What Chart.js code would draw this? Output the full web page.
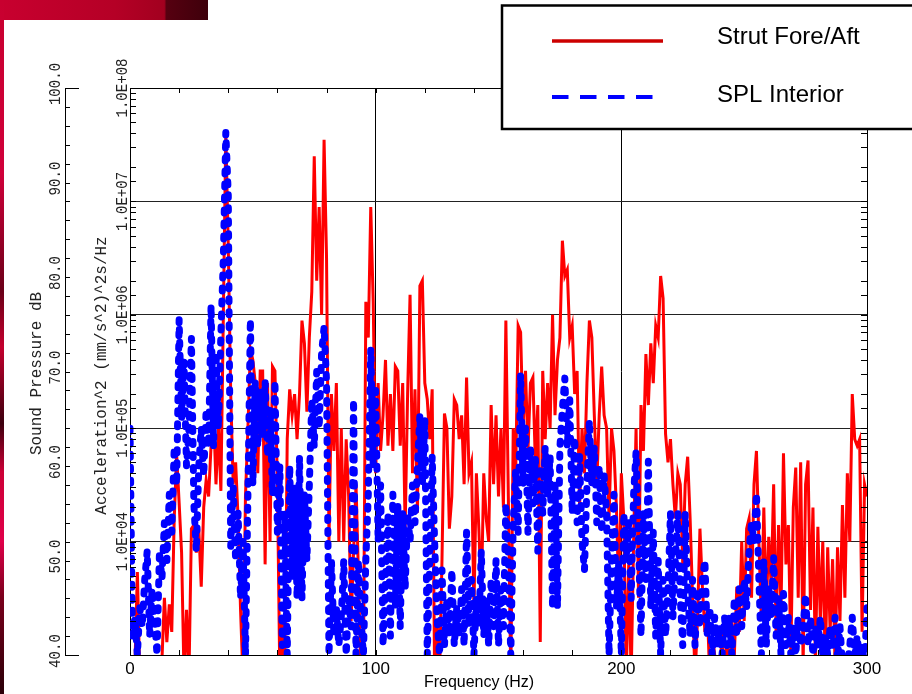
<!DOCTYPE html>
<html>
<head>
<meta charset="utf-8">
<title>Strut Fore/Aft vs SPL Interior</title>
<script src="https://cdn.jsdelivr.net/npm/chart.js@4.4.1/dist/chart.umd.min.js"></script>
<style>
  html, body { margin: 0; padding: 0; background: #fff; }
  body { width: 912px; height: 694px; position: relative; overflow: hidden; }
  #band { position: absolute; left: 0; top: 0; width: 208px; height: 20px;
    background: linear-gradient(90deg, #c8002f 0%, #b50026 55%, #a2001f 79%, #560010 80%, #3e000b 100%); }
  #strip { position: absolute; left: 0; top: 0; width: 4px; height: 694px;
    background: linear-gradient(180deg, #c8002f 0%, #d0003a 25%, #6a0018 42%, #c4002e 50%, #3c000e 61%, #cc0036 68%, #e0004a 78%, #7a001c 86%, #2a0008 100%); }
  #chart { position: absolute; left: 0; top: 0; }
</style>
</head>
<body>
<div id="band"></div>
<div id="strip"></div>
<canvas id="chart" width="912" height="694"></canvas>
<script>
// frequency grid (Hz)
const freqHz = [
  0, 1, 2, 3, 4, 5, 6, 7, 8, 9, 10, 11, 12, 13, 14, 15, 16, 17, 18, 19,
  20, 21, 22, 23, 24, 25, 26, 27, 28, 29, 30, 31, 32, 33, 34, 35, 36, 37, 38, 39,
  40, 41, 42, 43, 44, 45, 46, 47, 48, 49, 50, 51, 52, 53, 54, 55, 56, 57, 58, 59,
  60, 61, 62, 63, 64, 65, 66, 67, 68, 69, 70, 71, 72, 73, 74, 75, 76, 77, 78, 79,
  80, 81, 82, 83, 84, 85, 86, 87, 88, 89, 90, 91, 92, 93, 94, 95, 96, 97, 98, 99,
  100, 101, 102, 103, 104, 105, 106, 107, 108, 109, 110, 111, 112, 113, 114, 115, 116, 117, 118, 119,
  120, 121, 122, 123, 124, 125, 126, 127, 128, 129, 130, 131, 132, 133, 134, 135, 136, 137, 138, 139,
  140, 141, 142, 143, 144, 145, 146, 147, 148, 149, 150, 151, 152, 153, 154, 155, 156, 157, 158, 159,
  160, 161, 162, 163, 164, 165, 166, 167, 168, 169, 170, 171, 172, 173, 174, 175, 176, 177, 178, 179,
  180, 181, 182, 183, 184, 185, 186, 187, 188, 189, 190, 191, 192, 193, 194, 195, 196, 197, 198, 199,
  200, 201, 202, 203, 204, 205, 206, 207, 208, 209, 210, 211, 212, 213, 214, 215, 216, 217, 218, 219,
  220, 221, 222, 223, 224, 225, 226, 227, 228, 229, 230, 231, 232, 233, 234, 235, 236, 237, 238, 239,
  240, 241, 242, 243, 244, 245, 246, 247, 248, 249, 250, 251, 252, 253, 254, 255, 256, 257, 258, 259,
  260, 261, 262, 263, 264, 265, 266, 267, 268, 269, 270, 271, 272, 273, 274, 275, 276, 277, 278, 279,
  280, 281, 282, 283, 284, 285, 286, 287, 288, 289, 290, 291, 292, 293, 294, 295, 296, 297, 298, 299,
  300
]

// Strut Fore/Aft acceleration PSD, (mm/s^2)^2 s/Hz
const strutAccel = [
  5e2, 6.3e2, 8e2, 5.4e3, 6.3e2, 5e2, 4e2, 5e2, 4e2, 5e2,
  4e2, 5e2, 6.3e2, 9e2, 3.2e3, 1.3e3, 2.8e3, 1.6e3, 1.6e4, 5.8e4,
  2.2e4, 8e3, 6.3e2, 2.5e3, 6.3e2, 1.3e4, 1.4e4, 8e3, 1.3e4, 4e3,
  2e4, 3.5e4, 2.5e4, 7e4, 1.4e5, 3.2e4, 1e5, 2.8e4, 1e6, 4e7,
  4e6, 2e5, 3.2e4, 5e4, 1.6e4, 2.5e3, 6.3e2, 2.5e4, 1e5, 5e5,
  4e5, 2.5e5, 4e4, 3.2e5, 3.2e5, 6.3e3, 2.5e5, 1e4, 3.5e5, 3.2e5,
  3.2e4, 6.3e2, 2e3, 6.3e2, 8e4, 2.2e5, 1.3e5, 2e5, 8e4, 2e5,
  8.9e5, 5.6e5, 1.4e5, 6.3e5, 1.6e6, 2.5e7, 2e6, 8.9e6, 1e6, 3.5e7,
  3.2e6, 1e4, 2e5, 6.3e4, 2.5e5, 1e4, 1e5, 1e4, 8e4, 2.5e4,
  2e3, 8e3, 3.2e4, 5e3, 6.3e2, 6.3e2, 1.3e6, 6.3e5, 8.9e6, 1.3e6,
  4e4, 2.5e5, 6.3e4, 1.3e5, 4e5, 7e4, 2e5, 6.3e4, 3.5e5, 3.2e5,
  7e4, 2.5e5, 1.3e4, 2e5, 1.5e6, 4e4, 2.2e5, 1.8e4, 1.8e6, 2e6,
  2.5e5, 1.8e5, 8e4, 2.2e5, 6.3e2, 2e3, 6.3e2, 7e3, 1.35e5, 1e5,
  1.3e4, 2.5e4, 1.8e5, 1.6e5, 8e4, 1.3e5, 3.2e4, 2.8e5, 4e4, 5e4,
  2.5e3, 4e4, 1.3e4, 3.2e3, 4e4, 1.6e4, 1e4, 1.6e5, 3.2e4, 1.3e5,
  2.5e4, 1e5, 2e4, 8.9e5, 2.5e4, 6.3e2, 1e5, 4e4, 8e5, 7e5,
  1e5, 3.2e5, 6.3e4, 2.5e5, 2.8e5, 5e4, 1.6e5, 1.3e3, 3.2e5, 8e4,
  2.5e5, 1e5, 1e6, 1.3e5, 4e5, 6.3e5, 4.5e6, 2.2e6, 2.5e6, 6.3e5,
  8e5, 2e5, 3.2e5, 2e4, 1e5, 4e4, 2.5e5, 8.9e5, 6.3e5, 1.3e5,
  3.2e4, 1.3e5, 3.5e5, 1.3e5, 1e5, 1.6e4, 1e5, 6.3e4, 2e4, 3.2e3,
  4e4, 1.6e4, 6.3e2, 6.3e3, 6.3e2, 1e4, 1e5, 3.2e3, 1.6e5, 6.3e4,
  4.5e5, 1.6e5, 5.6e5, 2.5e5, 8e5, 6.3e5, 2.2e6, 1.4e6, 8.9e4, 5e4,
  8e4, 3.2e4, 1.6e4, 4e4, 3.2e4, 6.3e3, 3.2e4, 5.6e4, 1.6e4, 3.2e3,
  6.3e2, 2e3, 1.3e4, 4e3, 1.6e3, 2.5e3, 6.3e2, 6.3e2, 1e3, 6.3e2,
  6.3e2, 1.6e3, 6.3e2, 1.3e3, 6.3e2, 2e3, 1e3, 4e3, 1.6e3, 1e4,
  2e3, 1.3e4, 1.6e4, 3.2e3, 3.2e4, 6.3e4, 1e4, 2e3, 2e4, 2.5e3,
  1.1e4, 4e3, 3.2e4, 1.6e3, 1.4e4, 2.5e3, 6e4, 6.3e3, 1.4e4, 1e3,
  2e4, 4.5e4, 3.2e3, 5e4, 8e2, 3.2e4, 5.2e4, 2.5e3, 2e4, 8e2,
  1.35e4, 2e3, 1e4, 8e2, 8.9e3, 1.6e3, 7e3, 8e2, 8.9e3, 2e3,
  2.1e4, 3.2e3, 4e4, 1e4, 2e5, 8e4, 7e4, 8e4, 1.6e3, 3.2e4,
  2.5e4
]

// SPL Interior, dB
const splInterior = [
  64, 42, 44, 40, 45, 43, 48, 51, 42, 47,
  44, 40, 51, 48, 54, 50, 57, 53, 62, 58,
  75.5, 65, 71, 60, 64, 73.5, 56, 51, 60, 64,
  59, 66, 62, 77, 62, 72, 64, 74, 82, 95.3,
  88.7, 51.5, 58, 50, 55, 46, 52, 40, 57, 75.5,
  58, 69, 62, 68, 63, 69, 61, 66, 57, 69,
  53, 60, 41, 55, 40, 60, 48, 58, 46, 61,
  46, 57, 50, 58, 67, 62, 70, 64, 72, 74.7,
  69, 40, 50, 42, 45, 41, 44, 50, 40, 46,
  43, 67, 40, 50, 44, 40, 50, 57, 72.4, 60,
  68, 52, 58, 41, 48, 55, 42, 57, 45, 56,
  43, 55, 47, 55, 52, 58, 54, 60, 65.4, 58,
  65, 40, 50, 61, 52, 44, 40, 49, 41, 46,
  42, 49, 41, 45, 42, 47, 41, 53, 43, 48,
  40, 46, 43, 51, 42, 46, 41, 48, 43, 50,
  41, 47, 43, 56, 50, 40, 54, 59.6, 53, 69.7,
  58, 64, 53, 62, 56, 61, 51, 60, 55, 62,
  57, 61, 45, 58, 45, 62, 66, 69.3, 62, 67,
  55, 63, 54, 61, 52, 49, 58, 64.8, 58, 62,
  54, 60, 53, 59, 55, 40, 50, 57, 45, 50,
  40, 55, 50, 54, 46, 57, 61.5, 52, 42, 55,
  48, 60.5, 45, 53, 42, 50, 40, 48, 42, 47,
  55, 44, 50, 55, 46, 41, 55, 47, 42, 48,
  41, 47, 43, 48, 50, 42, 45, 40, 44, 41,
  43, 40, 44, 41, 44, 40, 46, 42, 47, 43,
  48, 45, 51, 54, 52, 57.1, 48, 40, 50, 41,
  47, 44, 50.3, 42, 46, 40, 46.5, 41, 44, 40,
  43, 40, 44, 41, 43, 46.4, 41, 44, 40, 43,
  41, 44, 40, 42, 40, 43, 41, 44, 39.5, 43,
  39, 40, 39, 41, 44, 40, 42, 39.5, 41, 39,
  45
]

// axis labels
const freqTickValues = [0, 100, 200, 300]
const freqTickLabels = ['0', '100', '200', '300']
const dbTickValues = [40, 50, 60, 70, 80, 90, 100]
const dbTickLabels = ['40.0', '50.0', '60.0', '70.0', '80.0', '90.0', '100.0']
const accTickValues = [1e4, 1e5, 1e6, 1e7, 1e8]
const accTickLabels = ['1.0E+04', '1.0E+05', '1.0E+06', '1.0E+07', '1.0E+08']
const freqTitle = 'Frequency (Hz)'
const dbTitle = 'Sound Pressure dB'
const accTitle = 'Acceleration^2 (mm/s^2)^2s/Hz'

function isDecade(v) {
    const l = Math.log10(v)
    return Math.abs(l - Math.round(l)) < 1e-9
}

// frame, inward ticks, rotated axis text and the boxed legend
const decorations = {
    id: 'decorations',
    afterDraw(chart) {
        const { ctx, chartArea: area, scales } = chart
        const xs = scales.x, acc = scales.yAcc, db = scales.yDb
        ctx.save()
        ctx.strokeStyle = '#000'
        ctx.lineWidth = 1
        ctx.beginPath()
        ctx.moveTo(area.left, area.top + 0.5)
        ctx.lineTo(area.right + 0.5, area.top + 0.5)
        ctx.lineTo(area.right + 0.5, area.bottom)
        for (let f = xs.min; f <= xs.max; f += 20) {
            const px = Math.round(xs.getPixelForValue(f)) + 0.5
            ctx.moveTo(px, area.top)
            ctx.lineTo(px, area.top + 5)
            ctx.moveTo(px, area.bottom)
            ctx.lineTo(px, area.bottom - 5)
        }
        acc.ticks.forEach(t => {
            const py = Math.round(acc.getPixelForValue(t.value)) + 0.5
            ctx.moveTo(area.left, py)
            ctx.lineTo(area.left + 6, py)
            ctx.moveTo(area.right, py)
            ctx.lineTo(area.right - 6, py)
        })
        db.ticks.forEach(t => {
            const py = Math.round(db.getPixelForValue(t.value)) + 0.5
            const len = (t.value === db.min || t.value === db.max) ? 14 : 5
            ctx.moveTo(db.right, py)
            ctx.lineTo(db.right + len, py)
        })
        ctx.stroke()

        const rotText = (text, cx, cy, font, squeeze) => {
            ctx.save()
            ctx.translate(cx, cy)
            ctx.rotate(-Math.PI / 2)
            ctx.scale(squeeze, 1)
            ctx.font = font
            ctx.fillStyle = '#222'
            ctx.textAlign = 'center'
            ctx.textBaseline = 'middle'
            ctx.fillText(text, 0, 0)
            ctx.restore()
        }
        const monoTick = '16px "Liberation Mono"'
        const monoTitle = '16px "Liberation Mono"'
        dbTickValues.forEach((v, i) => {
            rotText(dbTickLabels[i], db.right - 9, db.getPixelForValue(v) - 4, monoTick, 0.88)
        })
        accTickValues.forEach((v, i) => {
            rotText(accTickLabels[i], acc.right - 7, acc.getPixelForValue(v), monoTick, 0.88)
        })
        const midY = (area.top + area.bottom) / 2
        rotText(dbTitle, 37, midY + 2, monoTitle, 1)
        rotText(accTitle, 102, midY + 4, monoTitle, 1)

        ctx.fillStyle = '#000'
        ctx.font = '16px "Liberation Sans"'
        ctx.textAlign = 'center'
        ctx.textBaseline = 'alphabetic'
        ctx.fillText(freqTitle, 479, 687)

        // legend box
        ctx.fillStyle = '#fff'
        ctx.fillRect(502, 5.5, 430, 123.5)
        ctx.lineWidth = 2.5
        ctx.strokeStyle = '#000'
        ctx.strokeRect(502, 5.5, 430, 123.5)
        const ds = chart.data.datasets
        ctx.lineWidth = 3.5
        ctx.strokeStyle = '#cc0000'
        ctx.beginPath()
        ctx.moveTo(552, 41)
        ctx.lineTo(663, 41)
        ctx.stroke()
        ctx.setLineDash([16.5, 11.5])
        ctx.lineWidth = 4
        ctx.strokeStyle = '#0000ff'
        ctx.beginPath()
        ctx.moveTo(552, 97)
        ctx.lineTo(653, 97)
        ctx.stroke()
        ctx.setLineDash([])
        ctx.fillStyle = '#000'
        ctx.font = '24px "Liberation Sans"'
        ctx.textAlign = 'left'
        ctx.fillText(ds[0].label, 717, 44)
        ctx.fillText(ds[1].label, 717, 101.5)
        ctx.restore()
    }
}

let ctx = document.getElementById('chart').getContext('2d')
new Chart(ctx, {
    type: 'line',
    data: {
        labels: freqHz,
        datasets: [{
            label: 'Strut Fore/Aft',
            data: strutAccel,
            yAxisID: 'yAcc',
            borderColor: '#ff0000',
            borderWidth: 3,
            pointRadius: 0,
            tension: 0,
            order: 2,
            clip: 0
        }, {
            label: 'SPL Interior',
            data: splInterior,
            yAxisID: 'yDb',
            borderColor: '#0000ff',
            borderWidth: 7,
            borderDash: [3, 10],
            borderCapStyle: 'round',
            borderJoinStyle: 'round',
            pointRadius: 0,
            tension: 0,
            order: 1,
            clip: 0
        }]
    },
    options: {
        responsive: false,
        animation: false,
        devicePixelRatio: 1,
        events: [],
        layout: { padding: { top: 88, right: 45, bottom: 0, left: 0 } },
        plugins: {
            legend: { display: false },
            tooltip: { enabled: false }
        },
        scales: {
            x: {
                type: 'linear',
                min: 0,
                max: 300,
                afterFit: s => { s.height = 39 },
                ticks: {
                    stepSize: 100,
                    padding: 4,
                    color: '#000',
                    font: { family: 'Liberation Sans', size: 17 },
                    callback: v => {
                        const i = freqTickValues.indexOf(v)
                        return i >= 0 ? freqTickLabels[i] : ''
                    }
                },
                grid: { color: '#000', lineWidth: 1, drawTicks: false },
                border: { color: '#000', width: 1 }
            },
            yAcc: {
                type: 'logarithmic',
                position: 'left',
                min: 1e3,
                max: 1e8,
                weight: 1,
                afterFit: s => { s.width = 65 },
                ticks: { display: false },
                grid: {
                    drawTicks: false,
                    color: c => (c.tick && isDecade(c.tick.value)) ? '#222' : 'rgba(0,0,0,0)'
                },
                border: { color: '#000', width: 1 }
            },
            yDb: {
                type: 'linear',
                position: 'left',
                min: 40,
                max: 100,
                weight: 2,
                afterFit: s => { s.width = 65 },
                ticks: { display: false, stepSize: 2 },
                grid: { display: false, drawTicks: false },
                border: { color: '#000', width: 1 }
            }
        }
    },
    plugins: [decorations]
});
</script>
</body>
</html>
